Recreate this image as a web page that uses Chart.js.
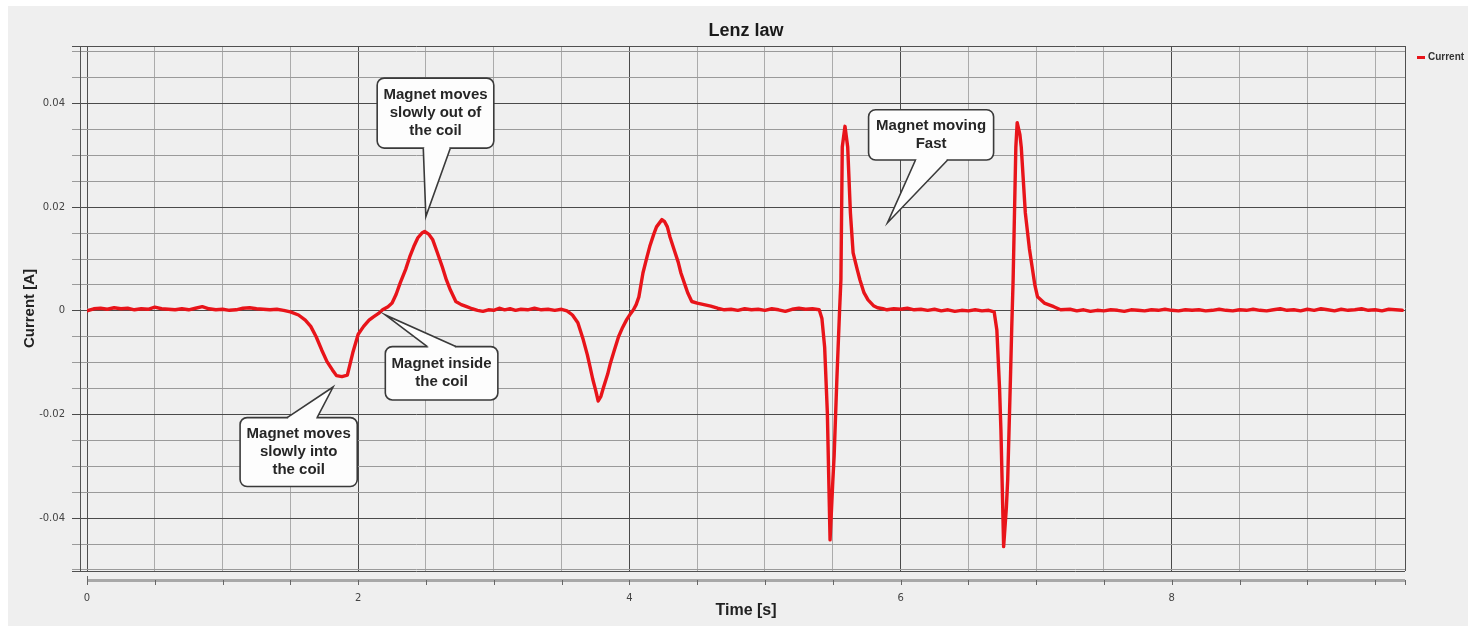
<!DOCTYPE html>
<html><head><meta charset="utf-8">
<script src="https://cdn.jsdelivr.net/npm/chart.js@4/dist/chart.umd.min.js"></script>
<style>
html,body{margin:0;padding:0;background:#fff;}
#wrap{position:absolute;left:8px;top:6px;width:1460px;height:620px;background:#efefef;}
canvas{display:block;}
</style></head><body>
<div id="wrap"><canvas id="c" width="1460" height="620"></canvas></div>
<script>
// ---- data ----
const timeS = [
  0,0.05,0.1,0.15,0.2,0.25,0.3,0.35,0.4,0.45,0.5,0.55,0.6,0.65,0.7,0.75,0.8,0.85,0.9,0.95,1.0,1.05,1.1,1.15,1.2,1.25,1.3,1.35,1.4,1.45,1.5,
  1.56,1.61,1.65,1.69,1.73,1.77,1.81,1.84,1.88,1.92,1.96,2.00,2.04,2.08,2.11,2.15,2.18,2.22,2.25,2.28,2.31,2.35,2.38,2.41,2.44,2.47,2.49,2.52,2.55,2.58,2.62,2.65,2.68,2.72,2.76,2.80,2.84,2.88,2.92,
  2.96,3.00,3.04,3.08,3.12,3.16,3.20,3.25,3.30,3.35,3.40,3.45,3.50,3.54,
  3.58,3.62,3.66,3.69,3.71,3.73,3.75,3.77,3.79,3.81,3.84,3.86,3.89,3.92,3.95,3.98,4.01,4.03,4.05,4.07,4.10,4.13,4.15,4.18,4.20,4.24,4.26,4.28,4.30,4.33,4.36,4.38,4.41,4.43,4.46,4.50,4.55,4.60,4.65,4.70,
  4.75,4.80,4.85,4.90,4.95,5.00,5.05,5.10,5.15,5.20,5.25,5.30,5.35,5.40,
  5.42,5.44,5.46,5.48,5.50,5.51,5.53,5.55,5.56,5.57,5.59,5.61,5.63,5.65,5.68,5.70,5.73,5.76,5.80,5.83,5.87,5.90,5.95,6.00,6.05,6.10,6.15,6.20,6.25,6.30,6.35,6.40,6.45,6.50,6.55,6.60,6.65,
  6.69,6.71,6.73,6.74,6.76,6.78,6.79,6.81,6.82,6.83,6.85,6.86,6.88,6.89,6.92,6.95,6.97,6.99,7.01,7.06,7.13,7.18,7.25,7.30,
  7.35,7.40,7.45,7.50,7.55,7.60,7.65,7.70,7.75,7.80,7.85,7.90,7.95,8.00,8.05,8.10,8.15,8.20,8.25,8.30,
  8.35,8.40,8.45,8.50,8.55,8.60,8.65,8.70,8.75,8.80,8.85,8.90,8.95,9.00,9.05,9.10,9.15,9.20,9.25,9.30,
  9.35,9.40,9.45,9.50,9.55,9.60,9.65,9.70
];
const currentA = [
  0,0.0004,0.0005,0.0003,0.0006,0.0004,0.0005,0.0002,0.0004,0.0003,0.0007,0.0004,0.0003,0.0002,0.0004,0.0002,0.0005,0.0008,0.0004,0.0002,0.0003,0.0001,0.0002,0.0005,0.0006,0.0004,0.0003,0.0002,0.0003,0.0001,-0.0002,
  -0.0008,-0.0018,-0.0030,-0.0050,-0.0075,-0.0098,-0.0114,-0.0125,-0.0127,-0.0124,-0.0081,-0.0045,-0.0030,-0.0018,-0.0012,-0.0005,0.0002,0.0008,0.0015,0.0032,0.0054,0.0080,0.0104,0.0124,0.0141,0.0150,0.0153,0.0148,0.0137,0.0115,0.0085,0.0060,0.0040,0.0018,0.0012,0.0008,0.0004,0.0001,-0.0001,
  0.0002,0.0001,0.0005,0.0002,0.0004,0.0001,0.0003,0.0002,0.0005,0.0002,0.0003,0.0001,0.0003,0.0000,
  -0.0008,-0.0023,-0.0056,-0.0085,-0.0108,-0.0132,-0.0152,-0.0174,-0.0165,-0.0147,-0.0122,-0.0101,-0.0075,-0.0050,-0.0032,-0.0017,-0.0005,0.0002,0.0012,0.0027,0.0073,0.0104,0.0124,0.0148,0.0162,0.0176,0.0172,0.0162,0.0142,0.0118,0.0094,0.0073,0.0050,0.0035,0.0018,0.0015,0.0012,0.0009,0.0005,0.0002,
  0.0003,0.0001,0.0004,0.0002,0.0003,0.0001,0.0004,0.0002,-0.0001,0.0003,0.0005,0.0003,0.0004,0.0002,
  -0.0015,-0.0070,-0.0197,-0.0442,-0.0330,-0.0280,-0.0133,0.0000,0.0060,0.0316,0.0356,0.0316,0.0189,0.0112,0.0080,0.0060,0.0035,0.0021,0.0010,0.0006,0.0004,0.0002,0.0004,0.0003,0.0005,0.0002,0.0003,0.0001,0.0003,0.0000,0.0002,-0.0001,0.0001,0.0000,0.0002,0.0000,0.0001,
  -0.0002,-0.0037,-0.0150,-0.0230,-0.0455,-0.0380,-0.0326,-0.0133,-0.0030,0.0060,0.0316,0.0363,0.0340,0.0316,0.0189,0.0120,0.0085,0.0050,0.0027,0.0015,0.0008,0.0002,0.0003,0.0000,
  0.0002,-0.0001,0.0001,0.0000,0.0002,0.0001,-0.0001,0.0002,0.0001,0.0000,0.0002,0.0001,0.0003,0.0001,0.0000,0.0002,0.0001,0.0002,0.0000,0.0001,
  0.0003,0.0001,0.0000,0.0002,0.0001,0.0003,0.0001,0.0000,0.0002,0.0004,0.0001,0.0002,0.0000,0.0003,0.0001,0.0004,0.0002,0.0000,0.0003,0.0001,
  0.0002,0.0004,0.0001,0.0002,0.0000,0.0003,0.0002,0.0001
];
const xMajorTicks = [0, 2, 4, 6, 8];
const xTickLabels = ['0', '2', '4', '6', '8'];
const yMajorTicks = [-0.04, -0.02, 0, 0.02, 0.04];
const yTickLabels = ['-0.04', '-0.02', '0', '0.02', '0.04'];
const seriesName = 'Current';
const chartTitle = 'Lenz law';
const xTitle = 'Time [s]';
const yTitle = 'Current [A]';
const calloutLines = [
  ['Magnet moves', 'slowly out of', 'the coil'],
  ['Magnet inside', 'the coil'],
  ['Magnet moves', 'slowly into', 'the coil'],
  ['Magnet moving', 'Fast']
];
// callout placement in data units: box [x0,x1,yTop,yBottom], pointer base x-range, tip [x,y]
const calloutPlacement = [
  {box:[2.14, 3.00, 0.0449, 0.0314], side:'bottom', base:[2.48, 2.68], tip:[2.499, 0.0182]},
  {box:[2.20, 3.03, -0.0069, -0.0172], side:'top', base:[2.51, 2.72], tip:[2.20, -0.0008]},
  {box:[1.129, 1.993, -0.0206, -0.0339], side:'top', base:[1.476, 1.697], tip:[1.815, -0.0147]},
  {box:[5.764, 6.686, 0.0388, 0.0291], side:'bottom', base:[6.11, 6.347], tip:[5.904, 0.0170]}
];

// ---- helpers ----
function stepTicks(step) {
  return function(scale) {
    const min = scale.min, max = scale.max;
    const t = [{value: min}];
    for (let k = Math.ceil(min / step - 1e-9); k <= Math.floor(max / step + 1e-9); k++) {
      const v = Math.round(k * step * 1e6) / 1e6;
      if (v > min + 1e-9 && v < max - 1e-9) t.push({value: v});
    }
    t.push({value: max});
    scale.ticks = t;
  };
}
function labelFrom(majors, labels) {
  return function(value) {
    const i = majors.findIndex(m => Math.abs(m - value) < 1e-7);
    return i >= 0 ? labels[i] : '';
  };
}
function gridColor(majors, minorCol) {
  return function(ctx) {
    const s = ctx.scale; const v = ctx.tick ? ctx.tick.value : 0;
    if (Math.abs(v - s.min) < 1e-9 || Math.abs(v - s.max) < 1e-9) return '#505050';
    return majors.some(m => Math.abs(m - v) < 1e-7) ? '#4a4a4a' : minorCol;
  };
}

const decor = {
  id: 'decor',
  afterDraw(chart) {
    const {ctx, chartArea: a, scales: {x, y}} = chart;
    ctx.save();
    // second left axis line
    ctx.strokeStyle = '#555'; ctx.lineWidth = 1;
    ctx.beginPath(); ctx.moveTo(a.left - 6.5, a.top); ctx.lineTo(a.left - 6.5, a.bottom); ctx.stroke();
    // bottom axis bar
    ctx.strokeStyle = '#a8a8a8'; ctx.lineWidth = 3;
    ctx.beginPath(); ctx.moveTo(a.left, a.bottom + 9.5); ctx.lineTo(a.right, a.bottom + 9.5); ctx.stroke();
    ctx.strokeStyle = '#666'; ctx.lineWidth = 1;
    x.ticks.forEach(t => {
      const px = Math.round(x.getPixelForValue(t.value)) + 0.5;
      ctx.beginPath(); ctx.moveTo(px, a.bottom + 9); ctx.lineTo(px, a.bottom + 14); ctx.stroke();
    });
    ctx.beginPath(); ctx.moveTo(a.left + 0.5, a.bottom + 5); ctx.lineTo(a.left + 0.5, a.bottom + 10); ctx.stroke();

    // callouts
    calloutPlacement.forEach((c, i) => {
      const L = x.getPixelForValue(c.box[0]), R = x.getPixelForValue(c.box[1]);
      const T = y.getPixelForValue(c.box[2]), B = y.getPixelForValue(c.box[3]);
      const tx = x.getPixelForValue(c.tip[0]), ty = y.getPixelForValue(c.tip[1]);
      const b1 = x.getPixelForValue(c.base[0]), b2 = x.getPixelForValue(c.base[1]);
      const ey = c.side === 'bottom' ? B : T;
      ctx.beginPath(); ctx.roundRect(L, T, R - L, B - T, 7);
      ctx.fillStyle = '#fdfdfd'; ctx.fill();
      ctx.lineWidth = 1.6; ctx.strokeStyle = '#3a3a3a'; ctx.stroke();
      ctx.beginPath(); ctx.moveTo(b1, ey); ctx.lineTo(tx, ty); ctx.lineTo(b2, ey); ctx.closePath();
      ctx.fillStyle = '#fdfdfd'; ctx.fill();
      ctx.fillRect(b1 + 1, ey - 2, b2 - b1 - 2, 4);
      ctx.beginPath(); ctx.moveTo(b1, ey); ctx.lineTo(tx, ty); ctx.lineTo(b2, ey);
      ctx.lineWidth = 1.6; ctx.strokeStyle = '#3a3a3a'; ctx.stroke();
      const lines = calloutLines[i];
      ctx.fillStyle = '#262626';
      ctx.font = 'bold 15px "Liberation Sans", Arial, sans-serif';
      ctx.textAlign = 'center'; ctx.textBaseline = 'middle';
      const cx = (L + R) / 2, cy = (T + B) / 2, lh = 18;
      lines.forEach((ln, k) => ctx.fillText(ln, cx, cy + (k - (lines.length - 1) / 2) * lh));
    });

    // legend
    const ds = chart.data.datasets[0];
    ctx.fillStyle = ds.borderColor;
    ctx.fillRect(a.right + 12, 50, 8, 3);
    ctx.fillStyle = '#333';
    ctx.font = 'bold 10px "Liberation Sans", Arial, sans-serif';
    ctx.textAlign = 'left'; ctx.textBaseline = 'middle';
    ctx.fillText(ds.label, a.right + 23, 51.5);
    ctx.restore();
  }
};

new Chart(document.getElementById('c'), {
  type: 'line',
  data: {
    datasets: [{
      label: seriesName,
      data: timeS.map((t, i) => ({x: t, y: currentA[i]})),
      borderColor: '#e8141a',
      borderWidth: 3.4,
      borderJoinStyle: 'round',
      borderCapStyle: 'round',
      pointRadius: 0,
      tension: 0,
      fill: false
    }]
  },
  options: {
    responsive: false,
    animation: false,
    layout: {padding: {left: 0, right: 63, top: 0, bottom: 0}},
    plugins: {
      legend: {display: false},
      tooltip: {enabled: false},
      title: {
        display: true, text: chartTitle, fullSize: false,
        color: '#1a1a1a',
        font: {family: '"Liberation Sans", Arial, sans-serif', size: 18, weight: 'bold'},
        padding: {top: 14, bottom: 4.4}
      }
    },
    scales: {
      x: {
        type: 'linear', min: 0, max: 9.72,
        afterBuildTicks: stepTicks(0.5),
        afterFit: s => { s.height = 55; },
        border: {display: false},
        grid: {color: gridColor(xMajorTicks, '#ababab'), lineWidth: 1, drawTicks: false},
        ticks: {autoSkip: false, maxRotation: 0, padding: 21, color: '#444',
          font: {family: '"DejaVu Sans", sans-serif', size: 10},
          callback: labelFrom(xMajorTicks, xTickLabels)},
        title: {display: true, text: xTitle, color: '#222',
          font: {family: '"Liberation Sans", Arial, sans-serif', size: 16, weight: 'bold'},
          padding: {top: 0, bottom: 6}}
      },
      y: {
        type: 'linear', min: -0.0502, max: 0.0511,
        afterBuildTicks: stepTicks(0.005),
        afterFit: s => { s.width = 79; },
        border: {display: false},
        grid: {color: gridColor(yMajorTicks, '#9a9a9a'), lineWidth: 1, drawTicks: true, tickLength: 15},
        ticks: {autoSkip: false, padding: 7, color: '#444',
          font: {family: '"DejaVu Sans", sans-serif', size: 10},
          callback: labelFrom(yMajorTicks, yTickLabels)},
        title: {display: true, text: yTitle, color: '#222',
          font: {family: '"Liberation Sans", Arial, sans-serif', size: 15, weight: 'bold'},
          padding: {top: 12.5, bottom: 0}}
      }
    }
  },
  plugins: [decor]
});
</script>
</body></html>
